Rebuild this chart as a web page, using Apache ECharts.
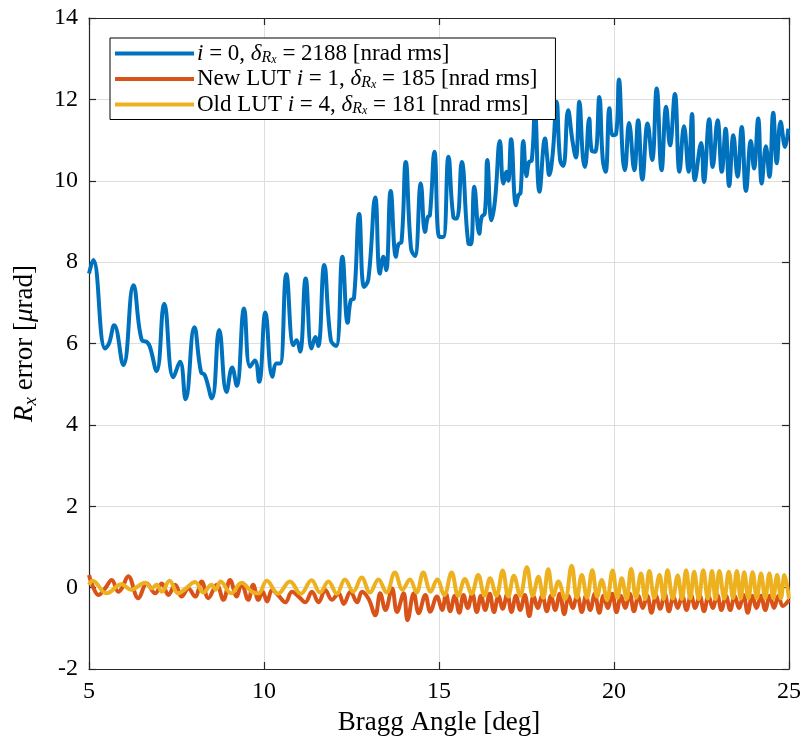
<!DOCTYPE html>
<html>
<head>
<meta charset="utf-8">
<script src="https://cdn.jsdelivr.net/npm/echarts@6/dist/echarts.min.js"></script>
<style>
html,body{margin:0;padding:0;background:#fff;}
#chart{width:804px;height:749px;}
</style>
</head>
<body>
<div id="chart"></div>
<script>
// ---- Data ----
const xTicks = [5, 10, 15, 20, 25];
const yTicks = [-2, 0, 2, 4, 6, 8, 10, 12, 14];

const seriesNames = [
  'i = 0, δRx = 2188 [nrad rms]',
  'New LUT i = 1, δRx = 185 [nrad rms]',
  'Old LUT i = 4, δRx = 181 [nrad rms]'
];

const blueX = [5.00,5.12,5.46,5.57,5.72,5.98,6.27,6.51,6.65,6.74,6.93,7.15,7.41,7.60,7.76,8.01,8.20,8.31,8.51,8.72,8.93,9.09,9.22,9.43,9.60,9.74,9.86,10.04,10.24,10.36,10.46,10.64,10.84,10.93,11.03,11.19,11.36,11.47,11.55,11.72,11.91,12.06,
  12.24,12.39,12.48,12.57,12.72,12.86,12.98,13.18,13.31,13.41,13.49,13.62,13.77,13.84,13.93,14.05,14.20,14.31,14.48,14.60,14.68,14.74,14.87,15.01,15.12,15.27,15.41,15.51,15.65,15.84,15.91,16.01,16.15,16.22,16.31,16.38,16.50,16.60,16.74,16.84,16.93,16.98,17.06,17.20,17.27,17.33,17.41,17.50,17.57,17.65,17.74,17.87,
  18.03,18.09,18.15,18.25,18.36,18.46,18.55,18.69,18.81,18.91,19.01,19.11,19.17,19.29,19.36,19.46,19.58,19.68,19.76,19.87,19.96,20.06,20.14,20.25,20.31,20.43,20.58,20.69,20.81,20.96,21.09,21.22,21.36,21.49,21.60,21.74,21.87,22.00,22.13,22.23,22.31,22.49,22.57,22.72,22.82,22.96,23.08,23.19,23.29,23.41,23.53,23.65,23.77,23.91,24.00,24.12,24.22,24.34,24.44,24.55,24.65,24.76,24.89,24.98];
const blueY = [7.72,8.05,5.88,6.00,6.45,5.47,7.43,6.08,6.04,5.92,5.32,6.98,5.17,5.55,4.63,6.40,5.30,5.22,4.65,6.33,4.81,5.41,4.96,6.86,5.43,5.58,5.06,6.76,5.18,5.51,5.51,7.70,5.96,6.08,5.80,7.60,5.88,6.16,5.94,7.93,6.08,5.94,
  8.13,6.51,7.07,7.11,9.18,7.39,7.57,9.59,7.72,8.13,7.80,9.75,8.13,8.44,8.50,10.46,8.34,8.15,9.93,8.74,9.11,9.15,10.71,8.62,8.62,10.59,9.11,9.07,10.46,8.46,8.44,9.85,8.70,9.11,9.20,10.51,9.03,9.52,10.98,9.93,10.22,10.00,11.02,9.40,9.65,9.70,10.98,10.11,10.46,10.50,11.70,9.73,
  11.04,10.59,10.14,10.67,11.94,10.51,10.36,11.73,11.00,10.57,11.94,10.59,10.34,11.53,10.75,10.71,12.06,10.51,10.22,11.78,11.12,11.15,12.49,10.59,10.26,11.42,10.26,11.49,10.03,11.41,10.51,12.27,10.26,11.82,10.87,12.13,10.22,11.34,10.22,11.64,10.01,10.93,9.97,11.51,10.34,11.49,10.22,11.28,9.87,11.12,10.10,11.32,9.75,10.98,10.30,11.53,9.93,10.85,10.10,11.67,10.43,11.45,10.83,11.28];

const orangeX = [5.00,5.10,5.27,5.46,5.65,5.84,5.95,6.12,6.41,6.65,6.89,7.08,7.27,7.46,7.65,7.84,8.03,8.22,8.41,8.65,8.84,9.03,9.22,9.36,9.55,9.69,9.84,9.96,10.09,10.23,10.42,10.61,10.80,10.99,11.18,11.37,11.56,11.75,11.94,12.13,12.28,12.47,12.66,12.80,12.99,13.18,13.32,13.47,13.66,13.80,13.99,14.10,14.28,14.42,14.61,14.75,14.94,15.09,
  15.20,15.32,15.45,15.58,15.70,15.82,15.95,16.08,16.20,16.32,16.45,16.57,16.70,16.82,16.95,17.07,17.20,17.32,17.45,17.58,17.70,17.82,17.95,18.08,18.20,18.32,18.45,18.58,18.70,18.82,18.95,19.08,19.20,19.32,19.45,19.58,19.70,19.82,19.95,20.07,20.20,20.32,20.45,20.57,20.70,20.82,20.95,21.07,21.20,21.32,21.45,21.57,21.70,21.82,21.95,22.07,22.20,22.32,22.45,22.57,22.70,22.82,22.95,23.07,23.20,23.32,23.45,23.57,23.70,23.82,23.95,24.07,24.20,24.32,24.45,24.57,24.70,24.82,25.00];
const orangeY = [0.31,0.05,-0.18,-0.02,0.19,-0.10,0.00,0.28,-0.26,0.10,-0.14,0.10,-0.18,0.07,-0.22,-0.02,-0.22,0.15,-0.26,0.07,-0.30,0.19,-0.22,0.10,-0.30,0.07,-0.30,-0.10,-0.34,-0.06,-0.20,-0.36,-0.10,-0.22,-0.36,-0.10,-0.36,-0.06,-0.30,-0.14,-0.40,-0.10,-0.36,-0.10,-0.28,-0.68,-0.14,-0.55,-0.02,-0.60,-0.14,-0.80,-0.14,-0.63,-0.18,-0.59,-0.22,-0.55,
  -0.15,-0.58,-0.20,-0.62,-0.18,-0.50,-0.15,-0.60,-0.20,-0.55,-0.15,-0.60,-0.20,-0.52,-0.15,-0.60,-0.20,-0.55,-0.18,-0.70,-0.20,-0.50,-0.18,-0.58,-0.20,-0.55,-0.15,-0.65,-0.20,-0.50,-0.18,-0.60,-0.20,-0.55,-0.15,-0.62,-0.20,-0.50,-0.15,-0.60,-0.20,-0.50,-0.15,-0.58,-0.20,-0.50,-0.20,-0.62,-0.20,-0.52,-0.15,-0.58,-0.22,-0.50,-0.20,-0.55,-0.18,-0.50,-0.20,-0.58,-0.20,-0.50,-0.18,-0.55,-0.20,-0.55,-0.20,-0.50,-0.18,-0.62,-0.20,-0.50,-0.20,-0.55,-0.20,-0.50,-0.20,-0.45,-0.30];

const yellowX = [5.00,5.10,5.50,5.93,6.20,6.60,6.79,6.93,7.08,7.30,7.55,7.74,8.03,8.27,8.50,8.62,8.76,9.06,9.36,9.65,9.84,10.08,10.40,10.74,11.05,11.36,11.60,11.84,12.08,12.31,12.55,12.79,13.03,13.27,13.50,13.74,13.96,14.17,14.36,14.55,14.76,14.95,15.15,15.36,15.55,15.74,15.93,16.12,16.30,16.46,16.64,16.82,16.98,17.14,17.32,17.51,17.68,17.84,17.98,18.12,18.27,18.41,18.60,18.79,18.94,19.08,19.23,19.38,19.52,19.65,19.80,19.96,20.10,
  20.22,20.36,20.49,20.63,20.77,20.89,21.01,21.15,21.30,21.42,21.53,21.68,21.82,21.94,22.06,22.18,22.29,22.42,22.55,22.68,22.80,22.90,23.01,23.15,23.28,23.40,23.51,23.62,23.72,23.84,23.96,24.08,24.20,24.32,24.44,24.55,24.66,24.77,24.87,25.00];
const yellowY = [0.07,0.17,-0.14,0.08,-0.05,0.12,-0.02,0.07,-0.10,0.17,-0.14,-0.04,0.14,-0.12,0.07,-0.05,0.15,-0.14,0.12,-0.10,-0.14,0.17,-0.15,0.15,-0.15,0.18,-0.12,0.15,-0.15,0.20,-0.10,0.25,-0.12,0.20,-0.12,0.37,-0.05,0.20,-0.12,0.37,-0.10,0.20,-0.18,0.37,-0.20,0.21,-0.15,0.31,-0.20,0.23,-0.20,0.42,-0.22,0.29,-0.20,0.50,-0.20,0.27,-0.25,0.45,-0.20,0.15,-0.28,0.54,-0.25,0.31,-0.25,0.43,-0.22,0.19,-0.30,0.42,-0.25,
  0.23,-0.28,0.46,-0.25,0.35,-0.28,0.41,-0.25,0.31,-0.28,0.43,-0.27,0.30,-0.28,0.43,-0.27,0.39,-0.28,0.43,-0.27,0.41,-0.28,0.41,-0.27,0.39,-0.26,0.41,-0.27,0.38,-0.26,0.38,-0.26,0.35,-0.26,0.35,-0.26,0.31,-0.26,0.31,-0.28,0.31,-0.32];

// ---- Build chart ----
function pairs(xs, ys){ return xs.map((x,i)=>[x, ys[i]]); }

const SERIF = "'Liberation Serif', 'DejaVu Serif', serif";
const AXIS_COLOR = '#262626';
const colors = ['#0072BD', '#D95319', '#EDB120'];

const legendRich = {
  t:   {fontFamily: SERIF, fontSize: 23, color: '#000', lineHeight: 24, verticalAlign: 'middle'},
  it:  {fontFamily: SERIF, fontSize: 23, fontStyle: 'italic', color: '#000', lineHeight: 24, verticalAlign: 'middle'},
  sub: {fontFamily: SERIF, fontSize: 16, fontStyle: 'italic', color: '#000', lineHeight: 15, verticalAlign: 'bottom'},
  ss:  {fontFamily: SERIF, fontSize: 12, fontStyle: 'italic', color: '#000', lineHeight: 10, verticalAlign: 'bottom'}
};
const legendRichText = {};
legendRichText[seriesNames[0]] = '{it|i}{t| = 0, }{it|δ}{sub|R}{ss|x}{t| = 2188 [nrad rms]}';
legendRichText[seriesNames[1]] = '{t|New LUT }{it|i}{t| = 1, }{it|δ}{sub|R}{ss|x}{t| = 185 [nrad rms]}';
legendRichText[seriesNames[2]] = '{t|Old LUT }{it|i}{t| = 4, }{it|δ}{sub|R}{ss|x}{t| = 181 [nrad rms]}';

const axisCommon = {
  axisLine: {show: true, onZero: false, lineStyle: {color: AXIS_COLOR, width: 1.2}},
  axisTick: {show: true, inside: true, length: 7, lineStyle: {color: AXIS_COLOR, width: 1.2}},
};

const chart = echarts.init(document.getElementById('chart'), null, {renderer: 'canvas'});
chart.setOption({
  animation: false,
  backgroundColor: '#fff',
  grid: {left: 89, right: 15, top: 18, bottom: 80, containLabel: false},
  legend: {
    orient: 'vertical',
    left: 110, top: 38,
    icon: 'rect',
    itemWidth: 79, itemHeight: 4,
    itemGap: 2,
    padding: [4, 18, 3, 5],
    borderColor: '#000', borderWidth: 1,
    backgroundColor: '#fff',
    data: seriesNames,
    formatter: name => legendRichText[name],
    textStyle: {rich: legendRich, padding: [0, 0, 0, -2]}
  },
  xAxis: [
    Object.assign({
      type: 'value', min: xTicks[0], max: xTicks[xTicks.length-1], interval: 5,
      position: 'bottom',
      splitLine: {show: true, lineStyle: {color: '#dedede', width: 1}},
      axisLabel: {fontFamily: SERIF, fontSize: 24, color: '#000', margin: 11},
      name: 'Bragg Angle [deg]', nameLocation: 'middle', nameGap: 40,
      nameTextStyle: {fontFamily: SERIF, fontSize: 27, color: '#000'}
    }, axisCommon),
    Object.assign({
      type: 'value', min: xTicks[0], max: xTicks[xTicks.length-1], interval: 5,
      position: 'top', axisLabel: {show: false}, splitLine: {show: false}
    }, axisCommon)
  ],
  yAxis: [
    Object.assign({
      type: 'value', min: yTicks[0], max: yTicks[yTicks.length-1], interval: 2,
      position: 'left',
      splitLine: {show: true, lineStyle: {color: '#dedede', width: 1}},
      axisLabel: {fontFamily: SERIF, fontSize: 24, color: '#000', margin: 11},
      name: '{it|R}{sub|x}{t| error [}{it|μ}{t|rad]}', nameLocation: 'middle', nameGap: 49,
      nameTextStyle: {
        fontFamily: SERIF, fontSize: 27, color: '#000',
        rich: {
          t:   {fontFamily: SERIF, fontSize: 27, color: '#000', lineHeight: 30, verticalAlign: 'middle'},
          it:  {fontFamily: SERIF, fontSize: 27, fontStyle: 'italic', color: '#000', lineHeight: 30, verticalAlign: 'middle'},
          sub: {fontFamily: SERIF, fontSize: 19, fontStyle: 'italic', color: '#000', lineHeight: 18, verticalAlign: 'bottom'}
        }
      }
    }, axisCommon),
    Object.assign({
      type: 'value', min: yTicks[0], max: yTicks[yTicks.length-1], interval: 2,
      position: 'right', axisLabel: {show: false}, splitLine: {show: false}
    }, axisCommon)
  ],
  series: [
    {name: seriesNames[0], type: 'line', xAxisIndex: 0, yAxisIndex: 0, data: pairs(blueX, blueY),
     showSymbol: false, smooth: 0.45, color: colors[0], lineStyle: {width: 4, color: colors[0]}, z: 2},
    {name: seriesNames[1], type: 'line', xAxisIndex: 0, yAxisIndex: 0, data: pairs(orangeX, orangeY),
     showSymbol: false, smooth: 0.4, color: colors[1], lineStyle: {width: 4, color: colors[1]}, z: 3},
    {name: seriesNames[2], type: 'line', xAxisIndex: 0, yAxisIndex: 0, data: pairs(yellowX, yellowY),
     showSymbol: false, smooth: 0.4, color: colors[2], lineStyle: {width: 4, color: colors[2]}, z: 4}
  ]
});
</script>
</body>
</html>
